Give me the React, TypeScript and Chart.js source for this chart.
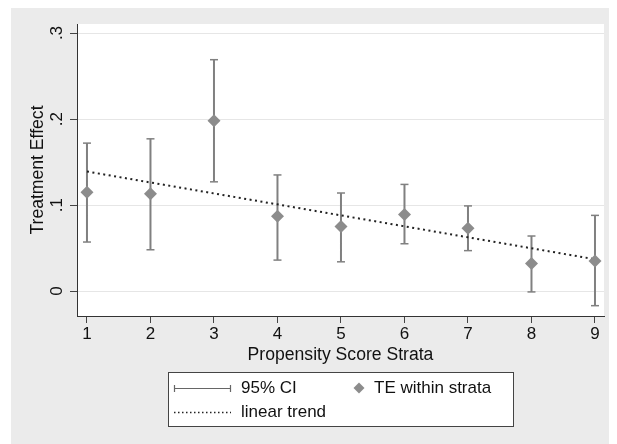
import React, { useEffect, useRef } from "react";
import { Chart, registerables } from "chart.js";

Chart.register(...registerables);

const strata = [1, 2, 3, 4, 5, 6, 7, 8, 9];
const teValues = [0.115, 0.113, 0.198, 0.087, 0.075, 0.089, 0.073, 0.032, 0.035];
const ciLower = [0.057, 0.048, 0.127, 0.036, 0.034, 0.055, 0.047, -0.001, -0.017];
const ciUpper = [0.172, 0.177, 0.269, 0.135, 0.114, 0.124, 0.099, 0.064, 0.088];
const trendX = [1, 9];
const trendY = [0.139, 0.037];
const yTicks = [0, 0.1, 0.2, 0.3];
const yTickLabels = ["0", ".1", ".2", ".3"];
const xTickLabels = ["1", "2", "3", "4", "5", "6", "7", "8", "9"];
const xTitle = "Propensity Score Strata";
const yTitle = "Treatment Effect";
const legendLabels = ["95% CI", "TE within strata", "linear trend"];

const FONT = "17px 'Liberation Sans', Arial, Helvetica, sans-serif";
const TITLE_FONT = "17.6px 'Liberation Sans', Arial, Helvetica, sans-serif";
const BAR_COLOR = "#808080";
const MARK_COLOR = "#8c8c8c";

export default function App() {
  const ref = useRef<HTMLCanvasElement | null>(null);

  useEffect(() => {
    if (!ref.current) return;

    const ciData: any[] = [];
    strata.forEach((s, i) => {
      ciData.push({ x: s, y: ciLower[i] });
      ciData.push({ x: s, y: ciUpper[i] });
      ciData.push({ x: s, y: null });
    });

    const decor = {
      id: "decor",
      beforeDraw(chart: any) {
        const { ctx, chartArea } = chart;
        ctx.save();
        ctx.fillStyle = "#ffffff";
        ctx.fillRect(chartArea.left, chartArea.top, chartArea.right - chartArea.left, chartArea.bottom - chartArea.top);
        ctx.restore();
      },
      afterDraw(chart: any) {
        const { ctx, chartArea } = chart;
        const xs = chart.scales.x;
        const ys = chart.scales.y;
        ctx.save();
        ctx.fillStyle = "#111";
        ctx.font = FONT;
        ctx.textAlign = "center";
        ctx.textBaseline = "middle";
        yTicks.forEach((v, i) => {
          const py = ys.getPixelForValue(v);
          ctx.save();
          ctx.translate(46, py);
          ctx.rotate(-Math.PI / 2);
          ctx.fillText(yTickLabels[i], 0, 0);
          ctx.restore();
        });
        ctx.font = TITLE_FONT;
        ctx.save();
        ctx.translate(27, (chartArea.top + chartArea.bottom) / 2);
        ctx.rotate(-Math.PI / 2);
        ctx.fillText(yTitle, 0, 0);
        ctx.restore();
        ctx.font = FONT;
        strata.forEach((s, i) => {
          ctx.fillText(xTickLabels[i], xs.getPixelForValue(s), 326);
        });
        ctx.font = TITLE_FONT;
        ctx.fillText(xTitle, (chartArea.left + chartArea.right) / 2, 347);

        const bx = 157, by = 364, bw = 345, bh = 54;
        ctx.fillStyle = "#ffffff";
        ctx.fillRect(bx, by, bw, bh);
        ctx.strokeStyle = "#444";
        ctx.lineWidth = 1;
        ctx.strokeRect(bx + 0.5, by + 0.5, bw, bh);

        const r1 = 380, r2 = 404;
        ctx.strokeStyle = "#666";
        ctx.lineWidth = 1.2;
        ctx.beginPath();
        ctx.moveTo(163, r1 + 0.5);
        ctx.lineTo(220, r1 + 0.5);
        ctx.moveTo(163.5, r1 - 3);
        ctx.lineTo(163.5, r1 + 4);
        ctx.moveTo(219.5, r1 - 3);
        ctx.lineTo(219.5, r1 + 4);
        ctx.stroke();
        ctx.strokeStyle = "#222";
        ctx.lineWidth = 1.5;
        ctx.setLineDash([1.5, 2.5]);
        ctx.beginPath();
        ctx.moveTo(163, r2 + 0.5);
        ctx.lineTo(220, r2 + 0.5);
        ctx.stroke();
        ctx.setLineDash([]);
        ctx.fillStyle = MARK_COLOR;
        ctx.beginPath();
        const dx = 348, dr = 5.5;
        ctx.moveTo(dx, r1 - dr);
        ctx.lineTo(dx + dr, r1);
        ctx.lineTo(dx, r1 + dr);
        ctx.lineTo(dx - dr, r1);
        ctx.closePath();
        ctx.fill();

        ctx.fillStyle = "#111";
        ctx.font = FONT;
        ctx.textAlign = "left";
        ctx.fillText(legendLabels[0], 230, r1);
        ctx.fillText(legendLabels[1], 363, r1);
        ctx.fillText(legendLabels[2], 230, r2);
        ctx.restore();
      },
    };

    const chart = new Chart(ref.current, {
      type: "scatter",
      data: {
        datasets: [
          {
            label: "TE within strata",
            data: strata.map((s, i) => ({ x: s, y: teValues[i] })),
            pointStyle: "rectRot",
            pointRadius: 6.5,
            backgroundColor: MARK_COLOR,
            borderColor: MARK_COLOR,
            borderWidth: 0,
            showLine: false,
          },
          {
            label: "linear trend",
            data: trendX.map((x, i) => ({ x, y: trendY[i] })),
            showLine: true,
            borderColor: "#222",
            borderWidth: 2,
            borderDash: [2, 3.5],
            pointRadius: 0,
          },
          {
            label: "95% CI",
            data: ciData,
            showLine: true,
            spanGaps: false,
            borderColor: BAR_COLOR,
            borderWidth: 2,
            pointStyle: "line",
            pointRadius: 4,
            pointBorderWidth: 1.5,
            pointBorderColor: BAR_COLOR,
            pointBackgroundColor: BAR_COLOR,
          },
        ],
      },
      options: {
        responsive: false,
        animation: false,
        devicePixelRatio: 1,
        layout: { padding: { top: 16, right: 13, left: 0, bottom: 0 } },
        plugins: { legend: { display: false }, tooltip: { enabled: false } },
        scales: {
          x: {
            type: "linear",
            min: 0.843,
            max: 9.142,
            afterBuildTicks: (scale: any) => {
              scale.ticks = strata.map((v) => ({ value: v }));
            },
            afterFit: (scale: any) => {
              scale.height = 128;
            },
            ticks: { display: false },
            grid: {
              drawOnChartArea: false,
              drawTicks: true,
              tickLength: 7,
              tickColor: "#444",
              tickWidth: 1,
            },
            border: { display: true, color: "#333", width: 1 },
          },
          y: {
            type: "linear",
            min: -0.029,
            max: 0.3105,
            afterBuildTicks: (scale: any) => {
              scale.ticks = yTicks.map((v) => ({ value: v }));
            },
            afterFit: (scale: any) => {
              scale.width = 66;
            },
            ticks: { display: false },
            grid: {
              color: "#e6e6e6",
              lineWidth: 1,
              drawTicks: true,
              tickLength: 7,
              tickColor: "#444",
              tickWidth: 1,
            },
            border: { display: true, color: "#333", width: 1 },
          },
        },
      },
      plugins: [decor],
    });

    return () => chart.destroy();
  }, []);

  return (
    <div style={{ marginLeft: 3, width: 606, height: 436, background: "#ebebeb" }}>
      <canvas ref={ref} width={606} height={436} style={{ display: "block" }} />
    </div>
  );
}
